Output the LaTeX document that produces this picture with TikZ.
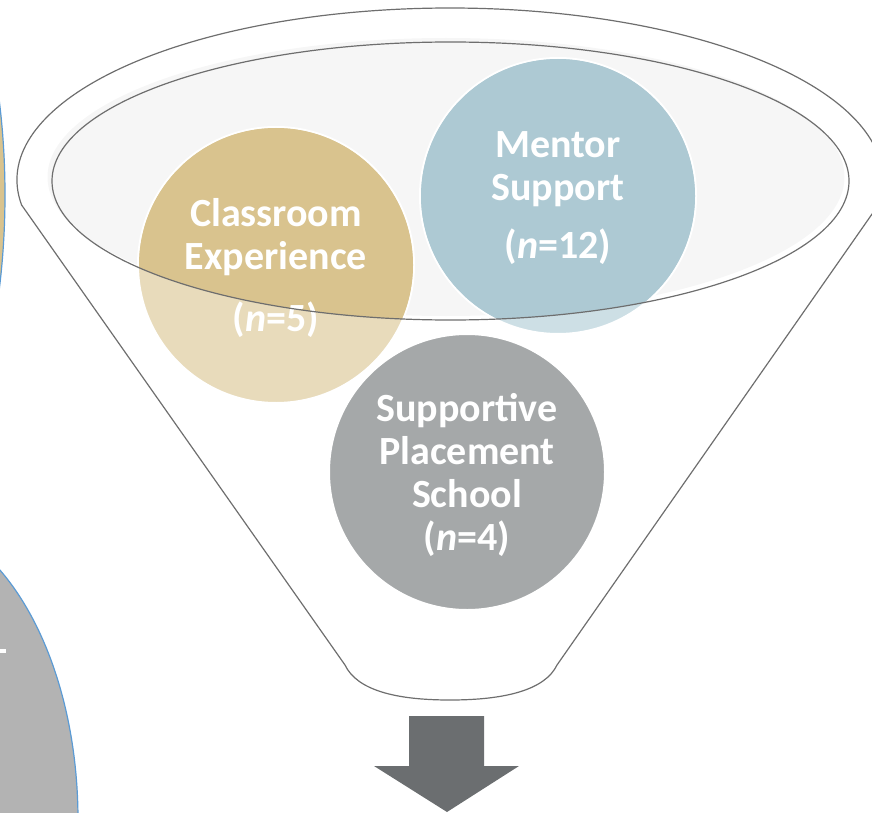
\documentclass[tikz,border=0pt]{standalone}
\usepackage{fontspec}
\setmainfont{Carlito}
\definecolor{tandark}{HTML}{D9C38E}
\definecolor{tanlight}{HTML}{E8DBBB}
\definecolor{bluedark}{HTML}{ADC9D3}
\definecolor{bluelight}{HTML}{CDDFE5}
\definecolor{graydisc}{HTML}{A5A8A9}
\definecolor{sidegray}{HTML}{B3B3B3}
\definecolor{edgeblue}{HTML}{5B9BD5}
\definecolor{linegray}{HTML}{6E6E6E}
\definecolor{rimfill}{HTML}{F6F6F6}
\definecolor{arrowgray}{HTML}{6B6E70}

\begin{document}
\begin{tikzpicture}[x=1pt, y=-1pt]
    \tikzset{disc/.style={circle, draw=white, line width=2pt, minimum size=276pt, inner sep=0pt},
             disctext/.style={text=white, align=center, font=\bfseries\fontsize{40}{43}\selectfont},
             rimline/.style={draw=linegray, line width=1.2pt},
             cutoff/.style={draw=edgeblue, line width=1.2pt}}
    \useasboundingbox (0,0) rectangle (872,813);
    \fill[tandark, cutoff] (-200,195) ellipse [x radius=205, y radius=400];
    \fill[sidegray, cutoff] (-100,820) ellipse [x radius=178, y radius=302];
    \fill[white] (0,649) rectangle (6,653);
    \coordinate (rim) at (450.5,181);
    \fill[rimfill] (446,177) ellipse [x radius=398.5, y radius=139];
    \node[disc, fill=tanlight] (classroom) at (276,265) {};
    \node[disc, fill=bluelight] (mentor) at (558,196) {};
    \node[disc, fill=graydisc] (placement) at (467,472) {};
    \begin{scope}
        \clip (rim) ellipse [x radius=398.5, y radius=139];
        \fill[tandark] (classroom.center) circle (137);
        \fill[bluedark] (mentor.center) circle (137);
    \end{scope}
    \node[disctext] (classroomtext) at (276,268) {Classroom\\Experience\\[19pt](\textit{n}=5)};
    \node[disctext] (mentortext) at (558,198) {Mentor\\Support\\[15pt](\textit{n}=12)};
    \node[disctext] (placementtext) at (467,474.5) {Supportive\\Placement\\School\\(\textit{n}=4)};
    \coordinate (leftcorner) at (345,665);
    \coordinate (rightcorner) at (557,665);
    \coordinate (bottom) at (450,700);
    \draw[rimline] (21.6,205) arc [start angle=171.64, end angle=368.36, x radius=433, y radius=172]
        -- (rightcorner) .. controls (545,690) and (505,700) .. (bottom)
        .. controls (395,700) and (357,690) .. (leftcorner) -- cycle;
    \draw[rimline] (rim) ellipse [x radius=398.5, y radius=139];
    \fill[arrowgray] (409,716) -- (484,716) -- (484,766) -- (519,766) -- (447,812)
        -- (374,766) -- (409,766) -- cycle;
\end{tikzpicture}
\end{document}
